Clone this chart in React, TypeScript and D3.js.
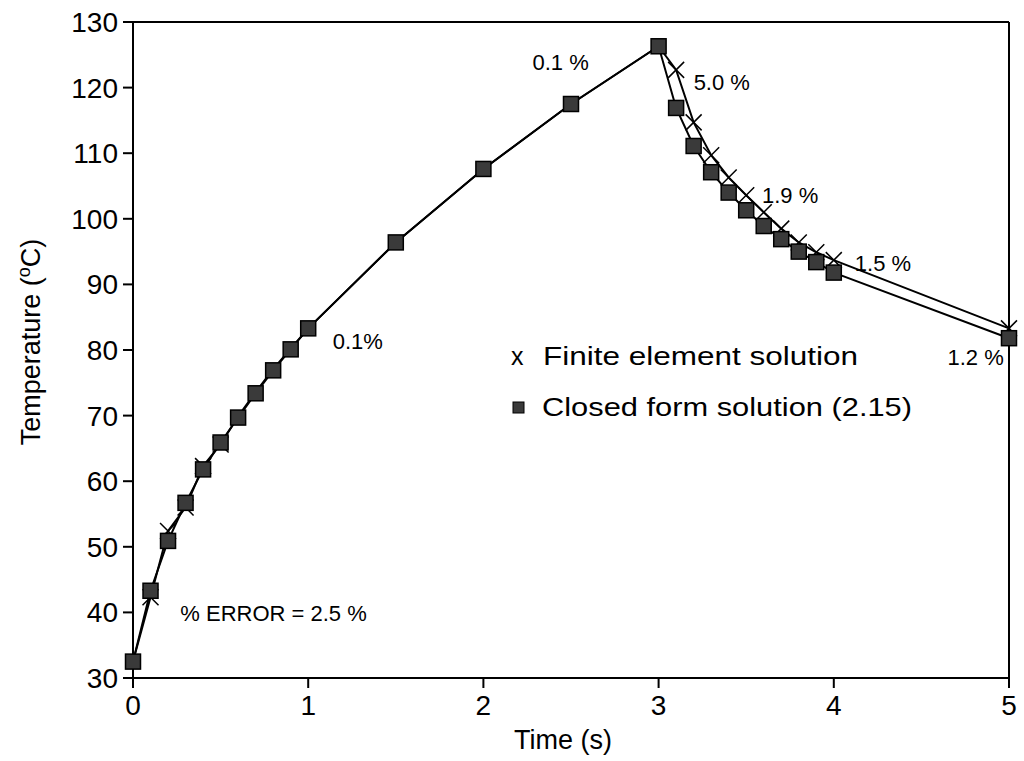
import * as d3 from "d3";

const times = [0, 0.1, 0.2, 0.3, 0.4, 0.5, 0.6, 0.7, 0.8, 0.9, 1.0, 1.5, 2.0, 2.5, 3.0, 3.1, 3.2, 3.3, 3.4, 3.5, 3.6, 3.7, 3.8, 3.9, 4.0, 5.0];
const closedForm = [32.5, 43.3, 50.9, 56.7, 61.8, 65.9, 69.7, 73.4, 76.9, 80.1, 83.3, 96.4, 107.6, 117.5, 126.3, 116.9, 111.1, 107.1, 104.0, 101.3, 98.9, 96.9, 95.0, 93.4, 91.8, 81.8];
const finiteElement = [32.5, 42.3, 52.4, 56.0, 62.3, 65.6, 69.9, 73.6, 77.1, 80.2, 83.3, 96.4, 107.6, 117.5, 126.3, 122.7, 114.7, 109.7, 106.3, 103.6, 101.0, 98.5, 96.4, 94.9, 93.7, 83.3];
// only these FE markers show; the others sit behind the squares
const feMarkerTimes = [0.1, 0.2, 0.3, 0.4, 0.5, 3.1, 3.2, 3.3, 3.4, 3.5, 3.6, 3.7, 3.8, 3.9, 4.0, 5.0];
const xTicks = [0, 1, 2, 3, 4, 5];
const yTicks = [30, 40, 50, 60, 70, 80, 90, 100, 110, 120, 130];

// percent error labels, placed in data units (left edge / middle)
const errorNotes = [
  { text: "0.1 %", t: 2.28, v: 123.9, anchor: "start" },
  { text: "5.0 %", t: 3.2, v: 120.9, anchor: "start" },
  { text: "1.9 %", t: 3.59, v: 103.6, anchor: "start" },
  { text: "1.5 %", t: 4.12, v: 93.2, anchor: "start" },
  { text: "1.2 %", t: 4.97, v: 78.9, anchor: "end" },
  { text: "0.1%", t: 1.14, v: 81.4, anchor: "start" },
  { text: "% ERROR = 2.5 %", t: 0.27, v: 39.9, anchor: "start" },
];

const font = "'Liberation Sans', Arial, Helvetica, sans-serif";

export default function App() {
  const width = 1024;
  const height = 761;
  const x = d3.scaleLinear().domain([0, 5]).range([133, 1009]);
  const y = d3.scaleLinear().domain([30, 130]).range([678, 22]);

  const cfPoints = times.map((t, i) => [t, closedForm[i]] as [number, number]);
  const fePoints = times.map((t, i) => [t, finiteElement[i]] as [number, number]);
  const line = d3
    .line<[number, number]>()
    .x((d) => x(d[0]))
    .y((d) => y(d[1]));

  const sq = 15;
  const xm = 8;

  return (
    <svg
      width={width}
      height={height}
      style={{ position: "absolute", left: 0, top: 0, background: "#fff" }}
      fontFamily={font}
    >
      {/* frame */}
      <line x1={x(0)} x2={x(5)} y1={y(130)} y2={y(130)} stroke="#000" strokeWidth={2} />
      <line x1={x(5)} x2={x(5)} y1={y(130)} y2={y(30) + 10} stroke="#000" strokeWidth={2} />
      <line x1={x(0) - 10} x2={x(5)} y1={y(30)} y2={y(30)} stroke="#000" strokeWidth={2} />
      <line x1={x(0)} x2={x(0)} y1={y(130)} y2={y(30) + 10} stroke="#000" strokeWidth={2} />

      {yTicks.map((v) => (
        <g key={v}>
          <line x1={x(0) - 10} x2={x(0)} y1={y(v)} y2={y(v)} stroke="#000" strokeWidth={2} />
          <text x={x(0) - 15} y={y(v)} dy="0.36em" textAnchor="end" fontSize={28}>
            {v}
          </text>
        </g>
      ))}
      {xTicks.map((t) => (
        <g key={t}>
          <line x1={x(t)} x2={x(t)} y1={y(30)} y2={y(30) + 10} stroke="#000" strokeWidth={2} />
          <text x={x(t)} y={y(30) + 27} dy="0.36em" textAnchor="middle" fontSize={28}>
            {t}
          </text>
        </g>
      ))}

      <text x={563} y={749} textAnchor="middle" fontSize={27}>
        Time (s)
      </text>
      <text transform={`translate(40, 342) rotate(-90)`} textAnchor="middle" fontSize={27}>
        Temperature (
        <tspan fontSize={18} dy={-10}>o</tspan>
        <tspan dy={10}>C)</tspan>
      </text>

      {/* series lines */}
      <path d={line(fePoints) ?? ""} fill="none" stroke="#000" strokeWidth={2} />
      <path d={line(cfPoints) ?? ""} fill="none" stroke="#000" strokeWidth={2} />

      {/* finite element markers */}
      {fePoints
        .filter((p) => feMarkerTimes.includes(p[0]))
        .map((p, i) => (
          <path
            key={i}
            d={`M${x(p[0]) - xm},${y(p[1]) - xm}L${x(p[0]) + xm},${y(p[1]) + xm}M${x(p[0]) - xm},${y(p[1]) + xm}L${x(p[0]) + xm},${y(p[1]) - xm}`}
            stroke="#000"
            strokeWidth={1.5}
          />
        ))}

      {/* closed form markers */}
      {cfPoints.map((p, i) => (
        <rect
          key={i}
          x={x(p[0]) - sq / 2}
          y={y(p[1]) - sq / 2}
          width={sq}
          height={sq}
          fill="#3a3a3a"
          stroke="#000"
          strokeWidth={1.5}
        />
      ))}

      {errorNotes.map((n) => (
        <text key={n.text} x={x(n.t)} y={y(n.v)} dy="0.36em" fontSize={22} textAnchor={n.anchor}>
          {n.text}
        </text>
      ))}

      {/* legend */}
      <text x={511} y={356} dy="0.36em" fontSize={25}>
        x
      </text>
      <text x={543} y={356} dy="0.36em" fontSize={25} textLength={315} lengthAdjust="spacingAndGlyphs">
        Finite element solution
      </text>
      <rect x={513} y={402} width={11} height={11} fill="#3a3a3a" stroke="#000" strokeWidth={1} />
      <text x={542} y={407} dy="0.36em" fontSize={25} textLength={370} lengthAdjust="spacingAndGlyphs">
        Closed form solution (2.15)
      </text>
    </svg>
  );
}
